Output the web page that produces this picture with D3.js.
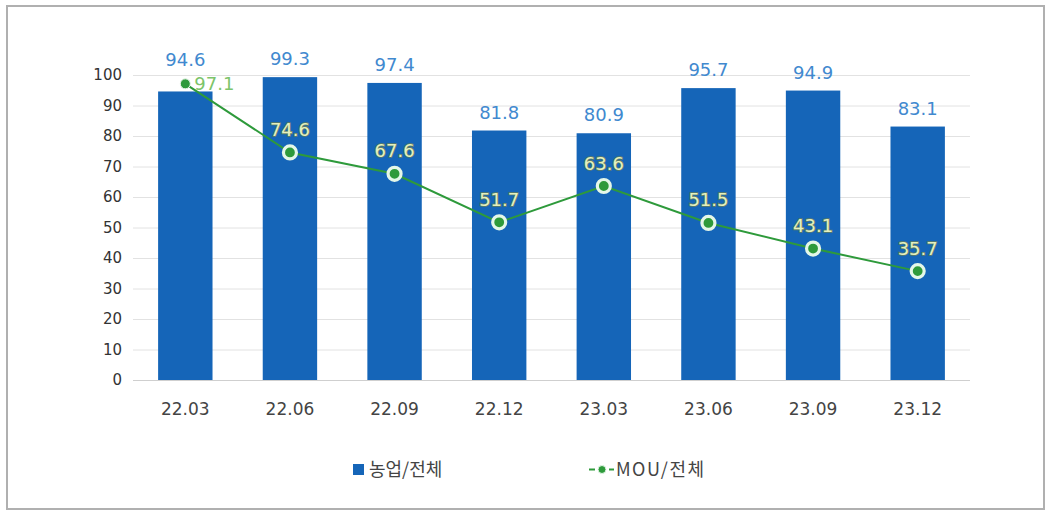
<!DOCTYPE html>
<html>
<head>
<meta charset="utf-8">
<style>
  body { margin: 0; background: #fff; }
  svg { font-family: "DejaVu Sans", "Noto Sans CJK KR", sans-serif; }
</style>
</head>
<body>
<svg id="chart" width="1049" height="513"></svg>
<script src="https://cdn.jsdelivr.net/npm/d3@7"></script>
<script>
// ---- data ----
var periods = ["22.03", "22.06", "22.09", "22.12", "23.03", "23.06", "23.09", "23.12"];
var farmShare = [94.6, 99.3, 97.4, 81.8, 80.9, 95.7, 94.9, 83.1];   // 농업/전체
var mouShare  = [97.1, 74.6, 67.6, 51.7, 63.6, 51.5, 43.1, 35.7];   // MOU/전체
var yTicks = [0, 10, 20, 30, 40, 50, 60, 70, 80, 90, 100];

var barColor = "#1565b8",
    lineColor = "#2e9a3b";

var svg = d3.select("#chart");

// outer frame
svg.append("rect")
    .attr("x", 7).attr("y", 6)
    .attr("width", 1037).attr("height", 503)
    .attr("fill", "#fff")
    .attr("stroke", "#b0b0b0")
    .attr("stroke-width", 2);

var x = d3.scaleBand()
    .domain(periods)
    .range([133, 970])
    .paddingInner(0.48)
    .paddingOuter(0.24);

var y = d3.scaleLinear()
    .domain([0, 100])
    .range([380, 75]);

function cx(i) { return x(periods[i]) + x.bandwidth() / 2; }

// grid lines
svg.append("g").selectAll("line")
    .data(yTicks)
    .enter().append("line")
    .attr("x1", 133).attr("x2", 970)
    .attr("y1", function(d) { return y(d) + 0.5; })
    .attr("y2", function(d) { return y(d) + 0.5; })
    .attr("stroke", function(d) { return d === 0 ? "#cfcfcf" : "#e2e2e2"; })
    .attr("stroke-width", 1);

// y axis labels
var yAxis = d3.axisLeft(y).tickValues(yTicks).tickSize(0).tickPadding(0);
var gy = svg.append("g").attr("transform", "translate(122,0)").call(yAxis);
gy.select(".domain").remove();
gy.selectAll("text")
    .attr("font-family", "'DejaVu Sans', sans-serif")
    .attr("font-size", 15)
    .attr("fill", "#333");

// x axis labels
var xAxis = d3.axisBottom(x).tickSize(0).tickPadding(0);
var gx = svg.append("g").attr("transform", "translate(0,403)").call(xAxis);
gx.select(".domain").remove();
gx.selectAll("text")
    .attr("font-family", "'DejaVu Sans', sans-serif")
    .attr("font-size", 17)
    .attr("fill", "#444");

// bars
svg.append("g").selectAll("rect")
    .data(farmShare)
    .enter().append("rect")
    .attr("x", function(d, i) { return x(periods[i]); })
    .attr("y", function(d) { return y(d); })
    .attr("width", x.bandwidth())
    .attr("height", function(d) { return y(0) - y(d); })
    .attr("fill", barColor);

// bar value labels (pushed up if the line point sits above the bar)
svg.append("g").selectAll("text")
    .data(farmShare)
    .enter().append("text")
    .attr("x", function(d, i) { return cx(i); })
    .attr("y", function(d, i) {
        var top = y(d);
        if (mouShare[i] > d) top = y(mouShare[i]) - 6;
        return top - 12;
    })
    .attr("text-anchor", "middle")
    .attr("font-size", 18)
    .attr("fill", "#4189cf")
    .text(function(d) { return d.toFixed(1); });

// line
var line = d3.line()
    .x(function(d, i) { return cx(i); })
    .y(function(d) { return y(d); });

svg.append("path")
    .datum(mouShare)
    .attr("d", line)
    .attr("fill", "none")
    .attr("stroke", lineColor)
    .attr("stroke-width", 2);

// points
svg.append("g").selectAll("circle")
    .data(mouShare)
    .enter().append("circle")
    .attr("cx", function(d, i) { return cx(i); })
    .attr("cy", function(d) { return y(d); })
    .attr("r", function(d, i) { return i === 0 ? 5 : 6.5; })
    .attr("fill", lineColor)
    .attr("stroke", function(d, i) { return i === 0 ? "#e9f6ea" : "#e4f7e8"; })
    .attr("stroke-width", function(d, i) { return i === 0 ? 1 : 3.2; });

// line value labels
svg.append("g").selectAll("text")
    .data(mouShare)
    .enter().append("text")
    .attr("x", function(d, i) { return i === 0 ? cx(i) + 9 : cx(i); })
    .attr("y", function(d, i) { return i === 0 ? y(d) + 6 : y(d) - 16.5; })
    .attr("text-anchor", function(d, i) { return i === 0 ? "start" : "middle"; })
    .attr("font-size", 18)
    .attr("fill", function(d, i) { return i === 0 ? "#7cc46a" : "#e4f0c0"; })
    .attr("stroke", function(d, i) { return i === 0 ? "none" : "#5f7d62"; })
    .attr("stroke-width", 1.6)
    .attr("paint-order", "stroke")
    .text(function(d) { return d.toFixed(1); });

// legend
var legend = svg.append("g")
    .attr("font-size", 18)
    .attr("fill", "#444")
    .attr("font-family", "'Noto Sans CJK KR', sans-serif");

legend.append("rect")
    .attr("x", 353).attr("y", 464)
    .attr("width", 11).attr("height", 11)
    .attr("fill", barColor);
legend.append("text")
    .attr("x", 369).attr("y", 476)
    .text("농업/전체");

legend.selectAll("line")
    .data([[589, 595], [609, 614]])
    .enter().append("line")
    .attr("x1", function(d) { return d[0]; })
    .attr("x2", function(d) { return d[1]; })
    .attr("y1", 469.5).attr("y2", 469.5)
    .attr("stroke", lineColor)
    .attr("stroke-width", 2);
legend.append("circle")
    .attr("cx", 602).attr("cy", 469.5)
    .attr("r", 4)
    .attr("fill", lineColor)
    .attr("stroke", "#e4f7e8")
    .attr("stroke-width", 1);
legend.append("text")
    .attr("x", 616).attr("y", 476)
    .attr("letter-spacing", 1.5)
    .text("MOU/전체");
</script>
</body>
</html>
